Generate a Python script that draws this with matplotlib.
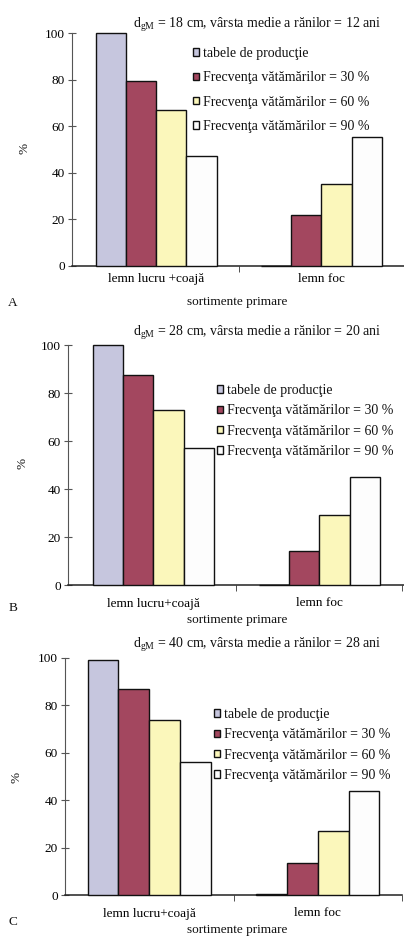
import matplotlib
matplotlib.use('Agg')
import matplotlib.pyplot as plt
import numpy as np

plt.rcParams['font.family'] = ['Liberation Serif', 'DejaVu Serif']
plt.rcParams['mathtext.fontset'] = 'custom'
plt.rcParams['mathtext.rm'] = 'Liberation Serif'
plt.rcParams['mathtext.it'] = 'Liberation Serif:italic'
plt.rcParams['text.color'] = '#111111'

# ---------------- data ----------------
series_labels = ['tabele de producţie',
                 'Frecvenţa vătămărilor = 30 %',
                 'Frecvenţa vătămărilor = 60 %',
                 'Frecvenţa vătămărilor = 90 %']
colors = ['#c6c6de', '#a3475f', '#fbf7bb', '#fdfdfd']

categories_A = ['lemn lucru +coajă', 'lemn foc']
categories_B = ['lemn lucru+coajă', 'lemn foc']
categories_C = ['lemn lucru+coajă', 'lemn foc']

values_A = [[100, 0], [79.5, 22], [67, 35], [47, 55.5]]
values_B = [[100, 0], [87.5, 14], [73, 29], [57, 45]]
values_C = [[99, 0.5], [87, 13.5], [74, 27], [56, 44]]

titles = [r'd$_{\mathrm{gM}}$ = 18 cm, vârsta medie a rănilor = 12 ani',
          r'd$_{\mathrm{gM}}$ = 28 cm, vârsta medie a rănilor = 20 ani',
          r'd$_{\mathrm{gM}}$ = 40 cm, vârsta medie a rănilor = 28 ani']
panel_letters = ['A', 'B', 'C']
xlabel = 'sortimente primare'
ylabel = '%'
yticks = [0, 20, 40, 60, 80, 100]

# ---------------- layout (pixels) ----------------
W, H = 404, 940
fig = plt.figure(figsize=(W / 100, H / 100), dpi=100)
fig.patch.set_facecolor('white')


def fx(px):
    return px / W


def fy(py):
    return 1 - py / H


layouts = [
    dict(left=72, right=404, y0=266, y100=33, xlim=(-0.51, 1.48), title_y=25,
         leg_x=193, leg_y=90, leg_sp=0.82, xl_y=302, letter_y=303, yl_x=25, yl_y=148, pad=5),
    dict(left=68, right=404, y0=585, y100=345, xlim=(-0.515, 1.51), title_y=333,
         leg_x=217, leg_y=421, leg_sp=0.52, xl_y=620, letter_y=608, yl_x=23, yl_y=463, pad=9),
    dict(left=65, right=402, y0=895, y100=658, xlim=(-0.5, 1.5), title_y=645,
         leg_x=214, leg_y=745, leg_sp=0.52, xl_y=930, letter_y=922, yl_x=16, yl_y=777, pad=9),
]

panels = [(categories_A, values_A), (categories_B, values_B), (categories_C, values_C)]
w = 0.183
fs_text = 10
fs_tick = 9.5

for k, ((cats, vals), L) in enumerate(zip(panels, layouts)):
    ax = fig.add_axes([fx(L['left']), fy(L['y0']), fx(L['right'] - L['left']),
                       (L['y0'] - L['y100']) / H])
    ax.set_facecolor('none')
    x = np.arange(len(cats))
    for j in range(4):
        ax.bar(x + (j - 1.5) * w, vals[j], w, color=colors[j], edgecolor='#111111',
               linewidth=1.0, label=series_labels[j], clip_on=False, zorder=3)
    ax.set_xlim(*L['xlim'])
    ax.set_ylim(0, 100)
    ax.set_xticks(x)
    ax.set_xticklabels(cats, fontsize=fs_tick)
    ax.set_xticks([0.5, 1.5], minor=True)
    ax.tick_params(axis='x', which='major', length=0, pad=L['pad'])
    ax.tick_params(axis='x', which='minor', length=4, direction='out', color='#333333')
    ax.set_yticks(yticks)
    ax.set_yticklabels([str(t) for t in yticks], fontsize=fs_tick)
    ax.tick_params(axis='y', direction='inout', length=6, pad=2, color='#555555')
    for s in ['top', 'right']:
        ax.spines[s].set_visible(False)
    ax.spines['left'].set_color('#555555')
    ax.spines['bottom'].set_color('#222222')
    ax.spines['bottom'].set_linewidth(1.1)

    ax.legend(loc='center left', bbox_to_anchor=(fx(L['leg_x']), fy(L['leg_y'])),
              bbox_transform=fig.transFigure, frameon=False, fontsize=fs_text,
              handlelength=0.45, handleheight=0.45, handletextpad=0.3,
              borderpad=0, borderaxespad=0, labelspacing=L['leg_sp'])

    fig.text(fx(257), fy(L['title_y']), titles[k], ha='center', va='center', fontsize=fs_text)
    fig.text(fx(237), fy(L['xl_y']), xlabel, ha='center', va='center', fontsize=fs_tick)
    fig.text(fx(13), fy(L['letter_y']), panel_letters[k], ha='center', va='center', fontsize=fs_tick)
    fig.text(fx(L['yl_x']), fy(L['yl_y']), ylabel, ha='center', va='center',
             fontsize=fs_tick, rotation=90)

fig.savefig('out.png', dpi=100, facecolor='white')
